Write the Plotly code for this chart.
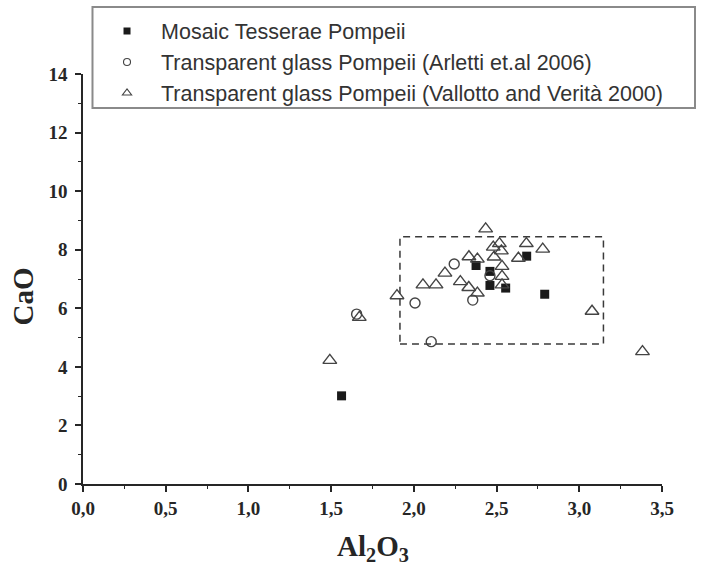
import plotly.graph_objects as go

# ---- data ----
mosaic_al2o3 = [1.563, 2.376, 2.460, 2.460, 2.555, 2.682, 2.791]
mosaic_cao = [3.01, 7.46, 7.26, 6.78, 6.69, 7.78, 6.48]

arletti_al2o3 = [2.244, 2.460, 2.007, 2.356, 2.105, 1.654]
arletti_cao = [7.51, 7.11, 6.18, 6.28, 4.86, 5.80]

vallotto_al2o3 = [2.434, 2.480, 2.517, 2.529, 2.485, 2.680, 2.779, 2.632, 2.333, 2.384,
                  2.188, 2.533, 2.533, 2.533, 2.055, 2.134, 2.281, 2.332, 2.384, 1.898,
                  3.077, 1.670, 1.492, 3.382]
vallotto_cao = [8.71, 8.09, 8.21, 7.96, 7.75, 8.21, 8.02, 7.71, 7.76, 7.68,
                7.20, 7.43, 7.09, 6.80, 6.80, 6.80, 6.91, 6.71, 6.52, 6.43,
                5.90, 5.69, 4.22, 4.52]

series_names = ["Mosaic Tesserae Pompeii",
                "Transparent glass Pompeii (Arletti et.al 2006)",
                "Transparent glass Pompeii (Vallotto and Verità 2000)"]

# dashed highlight box (Al2O3 range, CaO range)
box_al2o3 = [1.916, 3.146]
box_cao = [4.78, 8.44]

x_ticks = [0.0, 0.5, 1.0, 1.5, 2.0, 2.5, 3.0, 3.5]
y_ticks = [0, 2, 4, 6, 8, 10, 12, 14]

INK = "#262626"

fig = go.Figure()

fig.add_trace(go.Scatter(x=mosaic_al2o3, y=mosaic_cao, mode="markers", showlegend=False,
                         marker=dict(symbol="square", size=9, color="#1a1a1a",
                                     line=dict(width=0))))
fig.add_trace(go.Scatter(x=arletti_al2o3, y=arletti_cao, mode="markers", showlegend=False,
                         marker=dict(symbol="circle-open", size=10, color="#444444",
                                     line=dict(width=1.4))))
fig.add_trace(go.Scatter(x=vallotto_al2o3, y=vallotto_cao, mode="markers", showlegend=False,
                         marker=dict(symbol="triangle-up-open", size=12, color="#444444",
                                     line=dict(width=1.4))))

# legend entries (small symbols as in the reference)
leg_styles = [dict(symbol="square", size=7, color="#1a1a1a", line=dict(width=0)),
              dict(symbol="circle-open", size=7, color="#444444", line=dict(width=1.1)),
              dict(symbol="triangle-up-open", size=8, color="#444444", line=dict(width=1.1))]
for name, st in zip(series_names, leg_styles):
    fig.add_trace(go.Scatter(x=[None], y=[None], mode="markers", name=name, marker=st))

fig.add_shape(type="rect", xref="x", yref="y",
              x0=box_al2o3[0], x1=box_al2o3[1], y0=box_cao[0], y1=box_cao[1],
              line=dict(color="#3a3a3a", width=1.5, dash="7px,5px"))

# legend frame
fig.add_shape(type="rect", xref="paper", yref="paper",
              x0=0.0164, x1=1.057, y0=0.917, y1=1.1634,
              line=dict(color="#8a8a8a", width=2), fillcolor="white", layer="below")

axis_common = dict(showgrid=False, zeroline=False, showline=True, linecolor=INK,
                   linewidth=1.5, ticks="outside", ticklen=6, tickwidth=1.5,
                   tickcolor=INK, mirror=False,
                   tickfont=dict(family="Liberation Serif", size=19, color=INK,
                                 weight="bold"),
                   minor=dict(ticks="outside", ticklen=3, tickwidth=1.2,
                              tickcolor=INK))

fig.update_xaxes(range=[0, 3.5], tickvals=x_ticks, tickformat=".1f",
                 minor_dtick=0.25, **axis_common)
fig.update_yaxes(range=[0, 14], tickvals=y_ticks, minor_dtick=1,
                 ticklabelstandoff=4, **axis_common)

fig.add_annotation(text="CaO", xref="paper", yref="paper", x=-0.103, y=0.4585,
                   textangle=-90, showarrow=False, xanchor="center", yanchor="middle",
                   font=dict(family="Liberation Serif", size=29, color=INK, weight="bold"))
fig.add_annotation(text="Al<sub>2</sub>O<sub>3</sub>", xref="paper", yref="paper",
                   x=0.5, y=-0.206, showarrow=False, xanchor="center", yanchor="bottom",
                   font=dict(family="Liberation Serif", size=29, color=INK, weight="bold"))

fig.update_layout(
    width=714, height=569,
    margin=dict(l=83, r=52, t=74, b=85, autoexpand=False),
    paper_bgcolor="white", plot_bgcolor="white",
    separators=", ",
    showlegend=True,
    legend=dict(x=0.0173, y=1.1547, xanchor="left", yanchor="top",
                bgcolor="rgba(0,0,0,0)", borderwidth=0,
                itemwidth=58, tracegroupgap=0,
                font=dict(family="Liberation Sans", size=21.5, color="#333333")),
)

fig.write_html("out.html")
